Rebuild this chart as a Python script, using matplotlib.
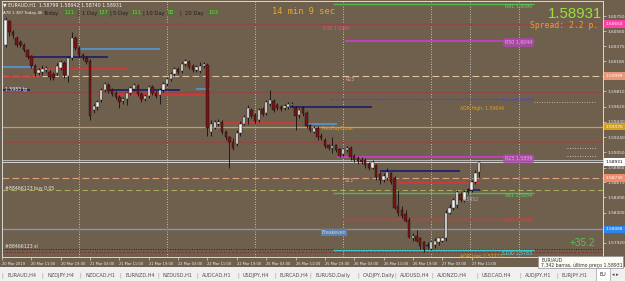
import matplotlib
matplotlib.use('Agg')
import matplotlib.pyplot as plt
from matplotlib.patches import Rectangle
import numpy as np

W, H = 625, 281

# EURAUD H1 candles, bar index = hours from 20 Mar 2019 00:00 (weekend skipped)
first_bar = 4
opens = [1.6039, 1.6069, 1.6055, 1.6048, 1.6043, 1.6039, 1.6033, 1.6025, 1.6013, 1.6004,
         1.6005, 1.6008, 1.6005, 1.6003, 1.6004, 1.6010, 1.6016, 1.6000, 1.6023, 1.6048,
         1.6035, 1.6026, 1.6023, 1.6019, 1.5958, 1.5961, 1.5970, 1.5983, 1.5989, 1.5983,
         1.5979, 1.5974, 1.5969, 1.5971, 1.5979, 1.5984, 1.5988, 1.5978, 1.5971, 1.5975,
         1.5986, 1.5979, 1.5976, 1.5983, 1.5990, 1.5996, 1.6003, 1.6009, 1.6006, 1.6015,
         1.6018, 1.6013, 1.6008, 1.6006, 1.6013, 1.6014, 1.5930, 1.5936, 1.5940, 1.5943,
         1.5930, 1.5924, 1.5918, 1.5916, 1.5929, 1.5941, 1.5948, 1.5958, 1.5951, 1.5945,
         1.5959, 1.5954, 1.5965, 1.5969, 1.5964, 1.5961, 1.5960, 1.5961, 1.5964, 1.5960,
         1.5951, 1.5960, 1.5954, 1.5939, 1.5931, 1.5935, 1.5926, 1.5920, 1.5914, 1.5910,
         1.5914, 1.5909, 1.5903, 1.5908, 1.5910, 1.5900, 1.5898, 1.5896, 1.5895, 1.5890,
         1.5886, 1.5889, 1.5878, 1.5870, 1.5873, 1.5879, 1.5873, 1.5838, 1.5833, 1.5828,
         1.5821, 1.5798, 1.5801, 1.5798, 1.5793, 1.5790, 1.5785, 1.5789, 1.5793, 1.5795,
         1.5798, 1.5830, 1.5835, 1.5839, 1.5853, 1.5845, 1.5858, 1.5858, 1.5868, 1.58799]
highs = [1.6074, 1.6070, 1.6058, 1.6050, 1.6045, 1.6041, 1.6034, 1.6026, 1.6015, 1.6010,
         1.6014, 1.6013, 1.6008, 1.6005, 1.6016, 1.6020, 1.6019, 1.6025, 1.6055, 1.6050,
         1.6038, 1.6029, 1.6025, 1.6021, 1.5965, 1.5970, 1.5985, 1.5993, 1.5991, 1.5985,
         1.5981, 1.5976, 1.5974, 1.5980, 1.5988, 1.5991, 1.5990, 1.5980, 1.5978, 1.5989,
         1.5989, 1.5981, 1.5985, 1.5993, 1.5999, 1.6005, 1.6011, 1.6011, 1.6018, 1.6021,
         1.6020, 1.6015, 1.6014, 1.6018, 1.6018, 1.6016, 1.5945, 1.5945, 1.5946, 1.5945,
         1.5933, 1.5926, 1.5923, 1.5933, 1.5944, 1.5951, 1.5964, 1.5960, 1.5954, 1.5960,
         1.5961, 1.5970, 1.5983, 1.5971, 1.5966, 1.5964, 1.5965, 1.5968, 1.5968, 1.5963,
         1.5960, 1.5963, 1.5956, 1.5941, 1.5938, 1.5938, 1.5929, 1.5923, 1.5916, 1.5924,
         1.5916, 1.5911, 1.5911, 1.5913, 1.5913, 1.5903, 1.5900, 1.5899, 1.5898, 1.5893,
         1.5895, 1.5891, 1.5880, 1.5879, 1.5885, 1.5881, 1.5876, 1.5858, 1.5838, 1.5833,
         1.5824, 1.5804, 1.5808, 1.5800, 1.5795, 1.5793, 1.5795, 1.5798, 1.5800, 1.5800,
         1.5833, 1.5840, 1.5848, 1.5858, 1.5855, 1.5858, 1.5860, 1.5870, 1.5883, 1.58942]
lows = [1.6036, 1.6050, 1.6048, 1.6036, 1.6036, 1.6030, 1.6021, 1.6010, 1.6000, 1.6001,
        1.6001, 1.6005, 1.5995, 1.5995, 1.6001, 1.6008, 1.5998, 1.5993, 1.6020, 1.6033,
        1.6024, 1.6020, 1.6015, 1.5945, 1.5954, 1.5958, 1.5968, 1.5980, 1.5979, 1.5975,
        1.5971, 1.5960, 1.5965, 1.5964, 1.5976, 1.5981, 1.5975, 1.5968, 1.5969, 1.5973,
        1.5976, 1.5973, 1.5965, 1.5980, 1.5988, 1.5994, 1.6000, 1.6003, 1.6004, 1.6013,
        1.6009, 1.6005, 1.6005, 1.6004, 1.6010, 1.5926, 1.5925, 1.5934, 1.5938, 1.5928,
        1.5920, 1.5886, 1.5908, 1.5913, 1.5926, 1.5939, 1.5940, 1.5948, 1.5941, 1.5943,
        1.5950, 1.5951, 1.5963, 1.5955, 1.5958, 1.5956, 1.5958, 1.5959, 1.5961, 1.5933,
        1.5948, 1.5950, 1.5935, 1.5930, 1.5929, 1.5921, 1.5920, 1.5910, 1.5908, 1.5904,
        1.5905, 1.5899, 1.5900, 1.5905, 1.5896, 1.5893, 1.5891, 1.5890, 1.5886, 1.5883,
        1.5884, 1.5871, 1.5865, 1.5868, 1.5870, 1.5865, 1.5834, 1.5826, 1.5823, 1.5818,
        1.5798, 1.5795, 1.5793, 1.5785, 1.5781, 1.5785, 1.5783, 1.5786, 1.5790, 1.5793,
        1.5795, 1.5828, 1.5833, 1.5836, 1.5843, 1.5843, 1.5853, 1.5855, 1.5865, 1.58740]
closes = [1.6070, 1.6055, 1.6051, 1.6039, 1.6039, 1.6033, 1.6024, 1.6013, 1.6004, 1.6008,
          1.6009, 1.6010, 1.5999, 1.5998, 1.6013, 1.6018, 1.6001, 1.6023, 1.6048, 1.6035,
          1.6026, 1.6023, 1.6018, 1.5950, 1.5963, 1.5968, 1.5983, 1.5990, 1.5981, 1.5978,
          1.5974, 1.5968, 1.5971, 1.5979, 1.5985, 1.5989, 1.5978, 1.5971, 1.5975, 1.5986,
          1.5979, 1.5975, 1.5983, 1.5990, 1.5996, 1.6003, 1.6009, 1.6005, 1.6015, 1.6019,
          1.6011, 1.6008, 1.6011, 1.6013, 1.6015, 1.5935, 1.5940, 1.5943, 1.5943, 1.5930,
          1.5924, 1.5918, 1.5911, 1.5929, 1.5941, 1.5949, 1.5960, 1.5950, 1.5944, 1.5958,
          1.5953, 1.5968, 1.5970, 1.5958, 1.5960, 1.5959, 1.5963, 1.5965, 1.5965, 1.5950,
          1.5958, 1.5954, 1.5938, 1.5933, 1.5935, 1.5924, 1.5923, 1.5913, 1.5910, 1.5913,
          1.5908, 1.5901, 1.5909, 1.5910, 1.5899, 1.5895, 1.5894, 1.5893, 1.5889, 1.5885,
          1.5893, 1.5874, 1.5870, 1.5876, 1.5880, 1.5868, 1.5836, 1.5830, 1.5826, 1.5820,
          1.5800, 1.5801, 1.5795, 1.5788, 1.5785, 1.5788, 1.5793, 1.5795, 1.5798, 1.5798,
          1.5830, 1.5836, 1.5845, 1.5855, 1.5845, 1.5855, 1.5855, 1.5868, 1.5879, 1.58931]

price_ticks = [1.57920, 1.58300, 1.58490, 1.58675, 1.58860, 1.59050, 1.59240,
               1.59430, 1.59620, 1.59810, 1.60185, 1.60375, 1.60560, 1.60750]
time_ticks = [3, 11, 19, 27, 35, 43, 51, 59, 67, 75, 83, 91, 99, 107, 115, 123, 131]
time_labels = ['20 Mar 2019', '20 Mar 11:00', '20 Mar 19:00', '21 Mar 03:00', '21 Mar 11:00',
               '21 Mar 19:00', '22 Mar 03:00', '22 Mar 11:00', '22 Mar 19:00', '25 Mar 03:00',
               '25 Mar 11:00', '25 Mar 19:00', '26 Mar 03:00', '26 Mar 11:00', '26 Mar 19:00',
               '27 Mar 03:00', '27 Mar 11:00']
day_lines = [24, 48, 72, 96, 120, 130.5, 144]

# levels drawn by the indicators
r61, r50, r23 = 1.6090, 1.6044, 1.5899
s61, s50, s100 = 1.5854, 1.5822, 1.5783
pivot = 1.5972
bid, ask = 1.58931, 1.58953
order_open, order_sl, breakeven = 1.5858, 1.5785, 1.5809
day_open_hi, day_open_lo = 1.6000, 1.5873
prev_close = 1.5937
faint_red = [1.6065, 1.5980, 1.5918]
navy_zones = [(1.6024, 10, 32), (1.5983, 2.5, 10.6), (1.5983, 32.4, 51.5),
              (1.5962, 81.5, 103.8), (1.5882, 106, 127.8), (1.5858, 129.7, 133.3)]
blue_zones = [(1.6034, 24.2, 46), (1.6011, 2.5, 12), (1.5984, 56, 59.7), (1.5940, 85.6, 94.3)]
red_zones = [(1.6009, 13.4, 37.3), (1.5999, 2.5, 13.4), (1.5977, 33.8, 59.7),
             (1.5942, 63.2, 84.2), (1.5867, 110.6, 133.3)]

tabs = ['EURAUD,H4', 'NZDJPY,H4', 'NZDCAD,H1', 'EURNZD,H4', 'NZDUSD,H1', 'AUDCAD,H1',
        'USDJPY,H4', 'EURCAD,H4', 'EURUSD,Daily', 'CADJPY,Daily', 'AUDUSD,H4', 'AUDNZD,H4',
        'USDCAD,H4', 'AUDJPY,H1', 'EURJPY,H1']
tab_x = [7, 47, 85, 125, 163, 202, 243, 280, 315, 363, 400, 437, 482, 525, 562]

BG = '#6f604e'
AX = '#d8d8d8'


def fx(px):
    return px / W


def fy(py):
    return 1 - py / H


fig = plt.figure(figsize=(W / 100, H / 100), dpi=100)
fig.patch.set_facecolor(BG)
ax = fig.add_axes([fx(2), fy(257), 601 / W, 256 / H])
ax.set_facecolor(BG)
ax.set_xlim(3.0, 166.8)
ax.set_ylim(1.57745, 1.60938)
for sp in ax.spines.values():
    sp.set_color(AX)
    sp.set_linewidth(0.7)

# separators
for d in day_lines:
    ax.axvline(d, color='#e0e0e0', lw=0.6, ls=(0, (1, 2)), zorder=1)

# full width lines
for p in faint_red:
    ax.axhline(p, color='#8c4a45', lw=0.8, zorder=1)
ax.axhline(day_open_hi, color='#dcc4a4', lw=0.8, ls=(0, (6, 3)), zorder=1)
ax.axhline(day_open_lo, color='#e0a080', lw=0.8, ls=(0, (6, 3)), zorder=1)
ax.axhline(prev_close, color='#c8a050', lw=0.9, zorder=1)
ax.axhline(order_open, color='#a8a85a', lw=0.8, ls=(0, (5, 3)), zorder=1)
ax.axhline(breakeven, color='#7f97ad', lw=1.0, zorder=1)
ax.axhline(order_sl, color='#202020', lw=0.7, ls=(0, (1, 1.5)), zorder=1)
ax.axhline(order_sl - 0.0004, color='#8a2a2a', lw=0.7, ls=(0, (2, 2)), zorder=1)
ax.axhline(ask, color='#c8c8c8', lw=0.6, zorder=1)
ax.axhline(bid, color='#e8e8e8', lw=0.6, zorder=1)

# zones
for p, a, b in navy_zones:
    ax.hlines(p, a, b, color='#1c1c70', lw=1.2, zorder=2)
for p, a, b in blue_zones:
    ax.hlines(p, a, b, color='#5596d8', lw=1.2, zorder=2)
for p, a, b in red_zones:
    ax.hlines(p, a, b, color='#d83535', lw=1.2, zorder=2)

# fibo levels
ax.hlines(r61, 93.2, 148, color='#4cbb4c', lw=1.0, zorder=2)
ax.hlines(r50, 96.5, 148, color='#c040c0', lw=1.4, zorder=2)
ax.hlines(pivot, 92.4, 148, color='#4c4cb8', lw=0.9, ls=(0, (3, 1)), zorder=2)
ax.hlines(pivot - 0.0004, 148, 165, color='#e0d0a0', lw=0.6, ls=(0, (1, 2)), zorder=2)
ax.hlines(r23, 94.3, 148, color='#c040c0', lw=1.4, zorder=2)
ax.hlines(s61, 93.2, 148, color='#4cbb4c', lw=1.0, zorder=2)
ax.hlines(s50, 95.6, 148, color='#d83535', lw=1.0, zorder=2)
ax.hlines(s100, 93.2, 148, color='#40c8c8', lw=1.0, zorder=2)
for p in [1.5911, 1.5901]:
    ax.hlines(p, 157, 165, color='#e0e0e0', lw=0.6, ls=(0, (1, 2)), zorder=2)

# candles
x = np.arange(first_bar, first_bar + len(closes))
o = np.array(opens)
c = np.array(closes)
up = c >= o
ax.vlines(x, lows, highs, color='#111111', lw=0.6, zorder=3)
body = np.maximum(np.abs(c - o), 0.00004)
ax.bar(x, body, bottom=np.minimum(o, c), width=0.66,
       color=np.where(up, '#f4f4f4', '#7a1414'), edgecolor='#111111', lw=0.3, zorder=4)

# level labels
lab = dict(fontsize=3.4, ha='right', va='center', zorder=5)
ax.text(147.5, r61 - 0.00025, 'R61 1.6090', color='#5fd35f', **lab)
ax.text(147.5, r50 - 0.0002, 'R50 1.6044', color='#f0a0f0',
        bbox=dict(boxstyle='round,pad=0.4', fc='#b048b0', ec='none', alpha=0.8), **lab)
ax.text(147.5, pivot - 0.0002, 'Pivot 1.5972', color='#5050d0', **lab)
ax.text(147.5, r23 - 0.0002, 'R23 1.5899', color='#f0a0f0',
        bbox=dict(boxstyle='round,pad=0.4', fc='#b048b0', ec='none', alpha=0.8), **lab)
ax.text(147.5, s61 - 0.0003, 'S61 1.5854', color='#5fd35f', **lab)
ax.text(147.5, s50 - 0.0002, 'S50 1.5822', color='#e83c3c', **lab)
ax.text(147.5, s100 - 0.0004, 'S100 1.5783', color='#50e0e0', **lab)
small = dict(fontsize=3.3, ha='left', va='center', zorder=5)
ax.text(127.8, 1.5960, 'ADR High: 1.59644', color='#e0a020', **small)
ax.text(127.8, 1.57755, 'ADR Low: 1.57717', color='#e0a020', **small)
ax.text(90.5, 1.6059, 'R38 1.6060', color='#e8507a', **small)
ax.text(96.5, day_open_hi - 0.0004, 'R23', color='#e8a0a0', **small)
ax.text(96.5, day_open_lo - 0.0003, 'S23', color='#e8a0a0', **small)
ax.text(90.2, prev_close - 0.0002, 'PrevDayClose', color='#e0a020', **small)
ax.text(90.2, breakeven - 0.0004, 'Breakeven', color='#c8d8f0',
        bbox=dict(boxstyle='square,pad=0.2', fc='#5a7fb0', ec='none'), **small)
ax.text(128.5, 1.5846, '1.5852', color='#b0b0b0', **small)
ax.text(3.8, 1.5983, '1.5983 tp', color='#f0f0f0', **small)
ax.text(3.8, order_open + 0.0002, '#88466123 buy 0.05', color='#e8e8e8', **small)
ax.text(3.8, order_sl + 0.0002, '#88466123 sl', color='#e8e8e8', **small)

# price axis
ax.yaxis.tick_right()
ax.set_yticks(price_ticks, [f'{p:.5f}' for p in price_ticks])
ax.tick_params(axis='y', colors=AX, labelcolor='#f0f0f0', labelsize=3.1,
               length=2, width=0.5, pad=1)
ax.set_xticks(time_ticks, time_labels)
ax.tick_params(axis='x', colors=AX, labelcolor='#f0f0f0', labelsize=2.6,
               length=2.5, width=0.5, pad=1.2)
for t in ax.get_xticklabels():
    t.set_ha('left')

tr = ax.get_yaxis_transform()
boxes = [(1.6065, '1.60650', '#ff40a8', 'white'),
         (day_open_hi, '1.59999', '#e89878', 'white'),
         (prev_close, '1.59376', '#d4a020', 'white'),
         (bid, '1.58931', '#ffffff', 'black'),
         (day_open_lo, '1.58730', '#f08a6a', 'white'),
         (breakeven, '1.58088', '#2a86f0', 'white')]
for p, s, fc, tc in boxes:
    ax.text(1.004, p, s, transform=tr, fontsize=3.1, color=tc, ha='left', va='center',
            bbox=dict(boxstyle='square,pad=0.4', fc=fc, ec='none'), zorder=6, clip_on=False)

# header
fig.text(fx(3), fy(5), '\u25bc EURAUD,H1  1.58799 1.58942 1.58740 1.58931',
         fontsize=3.4, color='#f0f0f0', va='center')
fig.text(fx(3), fy(13), 'A78 1.387 Today 46', fontsize=2.9, color='#f0f0f0', va='center')
stats = [('Today', 44, '111', 64), ('1 Day', 82, '137', 98), ('5 Day', 113, '111', 131),
         ('10 Day', 146, '82', 168), ('20 Day', 185, '103', 208)]
for name, nx, val, vx in stats:
    fig.text(fx(nx), fy(13), name, fontsize=3.8, color='#1e1e1e', va='center')
    fig.text(fx(vx), fy(13), val, fontsize=3.8, color='#66dd44', va='center',
             bbox=dict(boxstyle='square,pad=0.1', fc='#5b6a3c', ec='none'))
for sx in [77, 109, 142, 179]:
    fig.text(fx(sx), fy(13), '|', fontsize=3.8, color='#1e1e1e', va='center')

fig.text(fx(272), fy(11), '14 min 9 sec', family='DejaVu Sans Mono', fontsize=6.2,
         color='#e8a828', va='center')
fig.text(fx(602), fy(14), '1.58931', family='Liberation Sans', fontsize=10.8,
         color='#9be13a', ha='right', va='center')
fig.text(fx(598), fy(25), 'Spread: 2.2 p.', family='DejaVu Sans Mono', fontsize=5.9,
         color='#e8a030', ha='right', va='center')
fig.text(fx(595), fy(243), '+35.2', family='Liberation Sans', fontsize=7.2,
         color='#5cc05c', ha='right', va='center')

# tab bar
fig.patches.append(Rectangle((0, 0), 1, fy(267), transform=fig.transFigure,
                             fc='#f0f0f0', ec='none', zorder=0))
for name, tx in zip(tabs, tab_x):
    fig.text(fx(tx), fy(275), name, fontsize=3.6, color='#505050', va='center')
    fig.text(fx(tx - 6), fy(275), '|', fontsize=3.6, color='#909090', va='center')
fig.patches.append(Rectangle((fx(596), fy(281)), fx(14), 13 / H, transform=fig.transFigure,
                             fc='white', ec='#a0a0a0', lw=0.5, zorder=1))
fig.text(fx(599), fy(275), 'EU', fontsize=3.6, color='#202020', va='center', zorder=2)
fig.text(fx(612), fy(275), '\u25c2 \u25b8', fontsize=3.6, color='#404040', va='center')

# tooltip
fig.patches.append(Rectangle((fx(538), fy(268)), fx(85), 12 / H, transform=fig.transFigure,
                             fc='#fbfbf4', ec='#909090', lw=0.5, zorder=5))
fig.text(fx(541), fy(259.5), 'EUR/AUD', fontsize=3.3, color='#303030', va='center', zorder=6)
fig.text(fx(541), fy(265), '7.342 barras, último preço 1.58931', fontsize=3.3,
         color='#303030', va='center', zorder=6)

fig.savefig('out.png', dpi=100, facecolor=fig.get_facecolor())
